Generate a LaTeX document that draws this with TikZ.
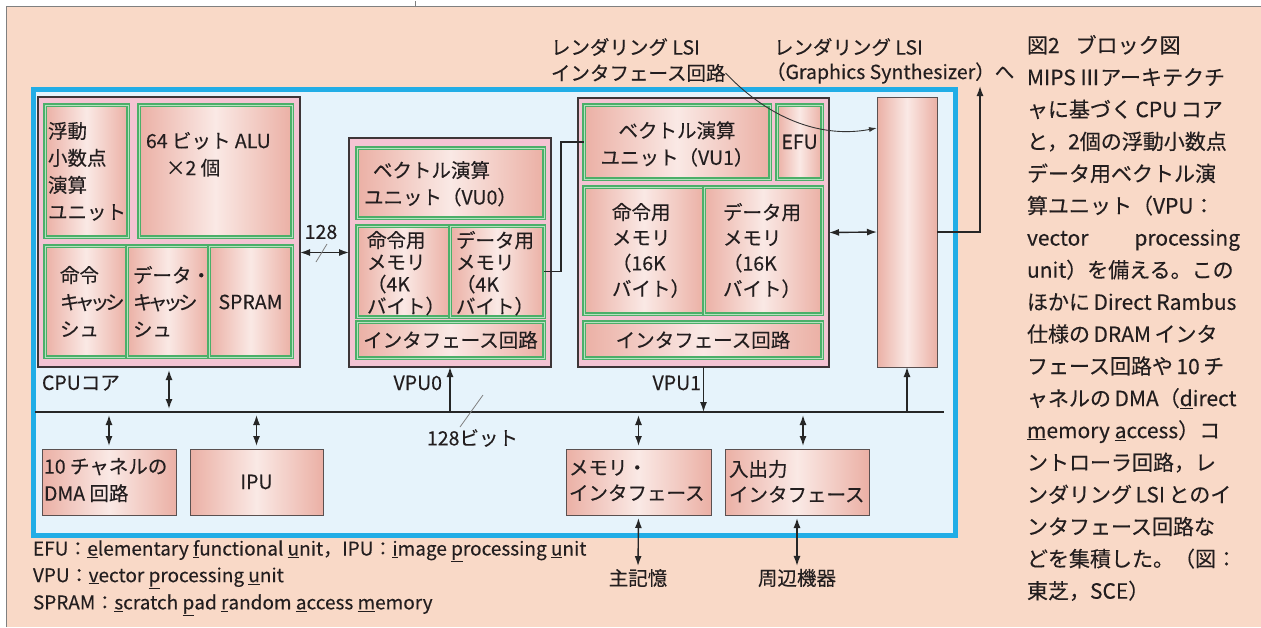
\documentclass[tikz,border=0pt]{standalone}
\usepackage{fontspec}
\setmainfont{Noto Sans CJK JP}[FakeBold=0.25]
\usetikzlibrary{arrows.meta,calc}
\definecolor{peach}{HTML}{F9D9C7}
\definecolor{lblue}{HTML}{E6F3FB}
\definecolor{cyanf}{HTML}{21ADE6}
\definecolor{pinkc}{HTML}{F4C4D3}
\definecolor{contb}{HTML}{3D3537}
\definecolor{grn}{HTML}{4BAF69}
\definecolor{grnl}{HTML}{B5E2C0}
\definecolor{sal}{HTML}{EBB0A5}
\definecolor{sall}{HTML}{FAE9E5}
\definecolor{txt}{HTML}{231E1F}
\definecolor{boxb}{HTML}{5A5050}
\newcommand\fA{\fontsize{19.5}{27}\selectfont}
\newcommand\fB{\fontsize{19.5}{22}\selectfont}
\newcommand\fC{\fontsize{19.5}{25.5}\selectfont}
\newcommand\fL{\fontsize{19}{20}\selectfont}
\newcommand\fCap{\fontsize{21}{32.1}\selectfont}
\newcommand\kya{キ\kern-4.5ptャ\kern-4.5ptッ\kern-4.5ptシ}
\newcommand\mybx[6]{\node[#2,anchor=north west,minimum width={#5pt-#3pt},minimum height={#6pt-#4pt}] (#1) at (#3,#4) {};}
\tikzset{
 cont/.style={fill=pinkc,draw=contb,line width=1.4pt,inner sep=0pt,outer sep=0pt},
 gbox/.style={draw=grn,double=grnl,double distance=0.9pt,line width=1.1pt,left color=sal,right color=sal,middle color=sall,inner sep=0pt,outer sep=0pt},
 pbox/.style={draw=boxb,line width=1pt,left color=sal,right color=sal,middle color=sall,inner sep=0pt,outer sep=0pt},
 lbl/.style={inner sep=0pt,outer sep=0pt,align=left,text=txt,font=\fA},
 conn/.style={line width=1.4pt,draw=black!85},
 ar/.style={conn,-{Latex[length=10pt,width=7pt]}},
 dar/.style={conn,{Latex[length=10pt,width=7pt]}-{Latex[length=10pt,width=7pt]}},
 gap/.style={shorten <=3pt,shorten >=3pt},
}
\begin{document}
\begin{tikzpicture}[x=1pt,y=-1pt]
\useasboundingbox (0,0) rectangle (1261,627);
\fill[white] (0,0) rectangle (1261,627);
\fill[peach] (6,6) rectangle (1261,627);
\draw[gray,line width=0.8pt] (6,627) -- (6,6) -- (1261,6);
\draw[gray,line width=0.8pt] (415,1) -- (415,6);

\mybx{frm}{draw=cyanf,line width=5pt,fill=lblue,inner sep=0pt}{30.5}{86.5}{952.5}{532.5}

% CPU core
\mybx{cpu}{cont}{38}{97}{300}{367}
\mybx{fpu}{gbox}{45}{105}{128}{237}
\mybx{alu}{gbox}{139}{105}{292}{237}
\mybx{icache}{gbox}{45}{246}{127}{357}
\mybx{dcache}{gbox}{127}{246}{209}{357}
\mybx{spram}{gbox}{209}{246}{292}{357}
% VPU0
\mybx{vpuA}{cont}{349}{138}{551}{367}
\mybx{vuA}{gbox}{357}{148}{544}{218}
\mybx{imA}{gbox}{357}{226}{450}{317}
\mybx{dmA}{gbox}{450}{226}{544}{317}
\mybx{ifA}{gbox}{357}{322}{544}{358}
% VPU1
\mybx{vpuB}{cont}{578}{98}{829}{367}
\mybx{vuB}{gbox}{584}{105}{770}{179}
\mybx{efu}{gbox}{777}{105}{822}{179}
\mybx{imB}{gbox}{584}{187}{704}{314}
\mybx{dmB}{gbox}{704}{187}{822}{314}
\mybx{ifB}{gbox}{584}{322}{822}{358}
% others
\mybx{rif}{pbox}{877}{97}{937}{367}
\mybx{dma}{pbox}{42}{449}{176}{515}
\mybx{ipu}{pbox}{190}{449}{323}{515}
\mybx{mif}{pbox}{566}{449}{711}{515}
\mybx{iof}{pbox}{725}{449}{869}{515}

% texts in boxes
\node[lbl,anchor=north west] (tfpu) at (48,122) {浮動\\小数点\\演算\\ユニット};
\node[lbl,anchor=north west] (talu) at (146,132) {64 ビット ALU\\\hspace*{20pt}×2 個};
\node[lbl,anchor=north west] (tic) at (60,266) {命令\\\kya\\シュ};
\node[lbl,anchor=north west] (tdc) at (133,266) {データ・\\\kya\\シュ};
\node[lbl] (tsp) at (250.5,302) {SPRAM};

\node[lbl,anchor=north west] (tvuA) at (364,161) {\hspace*{9pt}ベクトル演算\\ユニット（VU0）};
\node[lbl,anchor=north west,font=\fB] (timA) at (367,231) {命令用\\メモリ\\（4K\\バイト）};
\node[lbl,anchor=north west,font=\fB] (tdmA) at (456,231) {データ用\\メモリ\\（4K\\バイト）};
\node[lbl] (tifA) at (ifA.center) {インタフェース回路};

\node[lbl,align=center] (tvuB) at (677,144) {ベクトル演算\\ユニット（VU1）};
\node[lbl] (tefu) at (efu.center) {EFU};
\node[lbl,anchor=north west,font=\fC] (timB) at (612,203) {命令用\\メモリ\\（16K\\バイト）};
\node[lbl,anchor=north west,font=\fC] (tdmB) at (723,203) {データ用\\メモリ\\（16K\\バイト）};
\node[lbl] (tifB) at (ifB.center) {インタフェース回路};

\node[lbl,anchor=north west] (tdma) at (44,458) {10 チャネルの\\DMA 回路};
\node[lbl] (tipu) at (ipu.center) {IPU};
\node[lbl,anchor=north west,font=\fC] (tmif) at (569,460) {メモリ・\\インタフェース};
\node[lbl,anchor=north west,font=\fC] (tiof) at (729,460) {入出力\\インタフェース};

% free labels
\node[lbl,anchor=west] (lcpu) at (42,383) {CPUコア};
\node[lbl,anchor=east] (lvA) at (442,383) {VPU0};
\node[lbl,anchor=east] (lvB) at (701,383) {VPU1};
\node[lbl,anchor=west] (l128b) at (427,438) {128ビット};
\node[lbl] (l128) at (321,232) {128};
\node[lbl,anchor=west] (lrA1) at (551,47) {レンダリング LSI};
\node[lbl,anchor=west] (lrA2) at (551,73) {インタフェース回路};
\node[lbl,anchor=west] (lrB1) at (774,47) {レンダリング LSI};
\node[lbl,anchor=west] (lrB2) at (766,73) {（Graphics Synthesizer）へ};
\node[lbl] (mem) at (638,578) {主記憶};
\node[lbl] (per) at (797,578) {周辺機器};

\node[lbl,anchor=west,font=\fL] (lg1) at (33,551) {EFU：\underline{e}lementary \underline{f}unctional \underline{u}nit，IPU：\underline{i}mage \underline{p}rocessing \underline{u}nit};
\node[lbl,anchor=west,font=\fL] (lg2) at (33,578) {VPU：\underline{v}ector \underline{p}rocessing \underline{u}nit};
\node[lbl,anchor=west,font=\fL] (lg3) at (33,605) {SPRAM：\underline{s}cratch \underline{p}ad \underline{r}andom \underline{a}ccess \underline{m}emory};

\node[lbl,anchor=north west,font=\fCap] (cap) at (1027,35) {図2\hspace{16pt}ブロック図\\
MIPS\,Ⅲアーキテクチ\\
ャに基づく\,CPU\,コア\\
と，2個の浮動小数点\\
データ用ベクトル演\\
算ユニット（VPU：\\
\makebox[213pt][s]{vector\hfill processing}\\
unit）を備える。この\\
ほかに\,Direct Rambus\\
仕様の\,DRAM\,インタ\\
フェース回路や\,10\,チ\\
ャネルの\,DMA（\underline{d}irect\\
\underline{m}emory \underline{a}ccess）コ\\
ントローラ回路，レ\\
ンダリング\,LSI\,とのイ\\
ンタフェース回路な\\
どを集積した。（図：\\
東芝，SCE）};

% connectors
\draw[dar] (cpu.east |- vpuA.west) -- (vpuA.west);
\draw[gray,line width=0.8pt] (316,262) -- (327,244);
\draw[conn] (dmA.east) -- ++(17,0) |- (vuB.west);
\draw[dar] (vpuB.east) -- (rif.west);
\coordinate (gs) at (980,86);
\draw[ar] (rif.east) -| (gs);
\draw[line width=0.9pt,draw=black!80,-{Latex[length=8pt,width=5pt]}] (lrA2.east) .. controls (772,122) and (825,138) .. ($(rif.north west)+(0,31)$);

\coordinate (bl) at (35,412);
\coordinate (br) at (944,412);
\draw[conn] (bl) -- (br);
\draw[gray,line width=0.8pt] (483,395) -- (460,427);
\draw[dar,gap] (cpu.south) -- (cpu.south |- bl);
\draw[ar] (vpuA.south |- bl) -- (vpuA.south);
\draw[ar] (vpuB.south) -- (vpuB.south |- bl);
\draw[ar] (rif.south |- bl) -- (rif.south);
\draw[dar,gap] (dma.north |- bl) -- (dma.north);
\draw[dar,gap] (ipu.north |- bl) -- (ipu.north);
\draw[dar,gap] (mif.north |- bl) -- (mif.north);
\coordinate (iot) at ($(iof.north)+(6,0)$);
\draw[dar,gap] (iot |- bl) -- (iot);
\draw[dar,gap] (mif.south) -- (mem.north);
\draw[dar,gap] (iof.south) -- (per.north);
\end{tikzpicture}
\end{document}
